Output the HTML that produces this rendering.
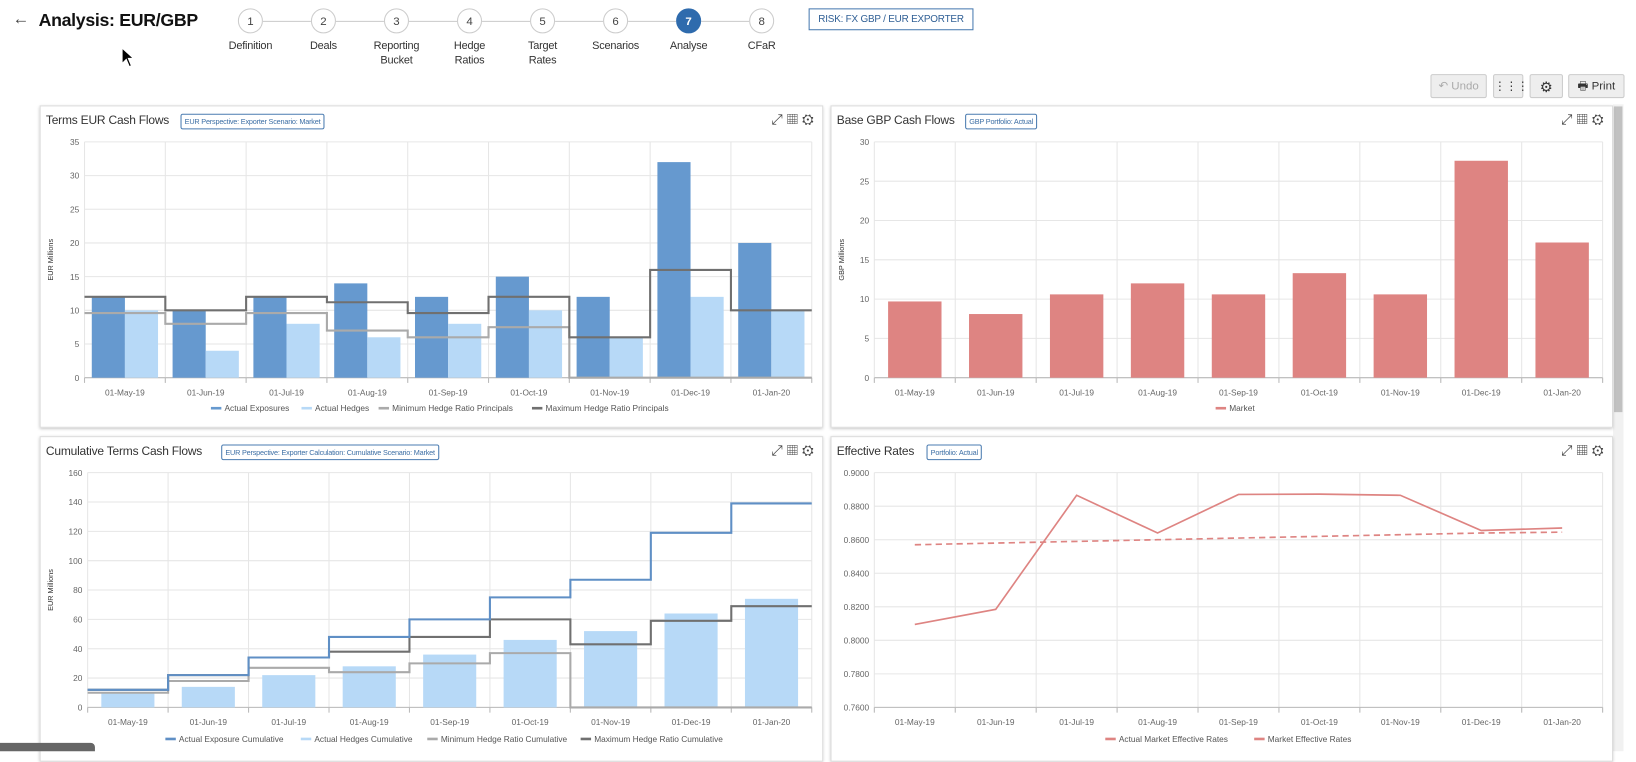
<!DOCTYPE html>
<html><head><meta charset="utf-8">
<style>
html,body{margin:0;padding:0;background:#fff;overflow:hidden;width:1636px;height:751px}
#root{position:absolute;left:0;top:0;width:1568px;height:720px;transform:scale(1.04337);transform-origin:0 0;font-family:"Liberation Sans",sans-serif;color:#333}
.abs{position:absolute}
.step{position:absolute;top:8px;width:24px;height:24px;border-radius:50%;border:1px solid #ccc;background:#fff;font-size:11px;text-align:center;line-height:24px;box-sizing:border-box;color:#444}
.step.on{background:#2f6bad;color:#fff;border-color:#2f6bad;font-weight:bold}
.slab{position:absolute;top:37px;font-size:10.5px;text-align:center;width:70px;line-height:14px;color:#333;letter-spacing:-0.2px}
.conn{position:absolute;top:20px;height:1px;background:#ccc}
.panel{position:absolute;background:#fff;border:1px solid #ddd;box-shadow:0 1px 3px rgba(0,0,0,.25)}
.ptitle{position:absolute;left:5px;top:8px;font-size:11.5px;color:#333;letter-spacing:-0.2px}
.badge{position:absolute;top:7px;height:15px;border:1px solid #4a7bb0;border-radius:2px;font-size:7px;color:#3d6fa5;line-height:15px;padding:0 3px;white-space:nowrap;letter-spacing:-0.2px;box-sizing:border-box}
.icons{position:absolute;right:8px;top:4px;font-size:14px;color:#444}
.tbtn{position:absolute;top:71px;height:23px;border:1px solid #ccc;border-radius:2px;background:#eee;font-size:11px;line-height:23px;text-align:center;box-sizing:border-box}
svg text{font-family:"Liberation Sans",sans-serif}
</style></head><body>
<div id="root">
<div class="abs" style="left:12px;top:10px;font-size:16px;color:#444">←</div>
<div class="abs" style="left:37px;top:10px;font-size:17px;font-weight:bold;color:#111;letter-spacing:-0.3px">Analysis: EUR/GBP</div>
<div id="steps"></div>
<div class="abs" style="left:775px;top:8px;width:158px;height:21px;border:1px solid #4a7bb0;font-size:9.5px;color:#2f5f95;line-height:20px;text-align:center;box-sizing:border-box;letter-spacing:-0.2px">RISK: FX GBP / EUR EXPORTER</div>
<div class="tbtn" style="left:1371px;width:54px;color:#aaa">↶ Undo</div>
<div class="tbtn" style="left:1431px;width:29px">⋮⋮⋮</div>
<div class="tbtn" style="left:1466px;width:32px;font-size:14px">⚙</div>
<div class="tbtn" style="left:1503px;width:54px">🖶 Print</div>
<div class="abs" style="left:1546px;top:100px;width:10px;height:620px;background:#f1f1f1"><div style="position:absolute;left:1px;top:2px;width:8px;height:293px;background:#c1c1c1"></div></div>

<div class="panel" style="left:38px;top:101px;width:749px;height:307px">
 <div class="ptitle">Terms EUR Cash Flows</div>
 <div class="badge" style="left:134px">EUR Perspective: Exporter Scenario: Market</div>
 <div class="icons">⤢ ▦ ⚙</div>
 <svg id="c1" width="749" height="307" style="position:absolute;left:0;top:0"></svg>
</div>
<div class="panel" style="left:796px;top:101px;width:748px;height:307px">
 <div class="ptitle">Base GBP Cash Flows</div>
 <div class="badge" style="left:128px">GBP Portfolio: Actual</div>
 <div class="icons">⤢ ▦ ⚙</div>
 <svg id="c2" width="748" height="307" style="position:absolute;left:0;top:0"></svg>
</div>
<div class="panel" style="left:38px;top:418px;width:749px;height:310px">
 <div class="ptitle">Cumulative Terms Cash Flows</div>
 <div class="badge" style="left:173px">EUR Perspective: Exporter Calculation: Cumulative Scenario: Market</div>
 <div class="icons">⤢ ▦ ⚙</div>
 <svg id="c3" width="749" height="310" style="position:absolute;left:0;top:0"></svg>
</div>
<div class="panel" style="left:796px;top:418px;width:748px;height:310px">
 <div class="ptitle">Effective Rates</div>
 <div class="badge" style="left:91px">Portfolio: Actual</div>
 <div class="icons">⤢ ▦ ⚙</div>
 <svg id="c4" width="748" height="310" style="position:absolute;left:0;top:0"></svg>
</div>
<div class="abs" style="left:0;top:712px;width:91px;height:8px;background:#666;border-radius:0 4px 0 0"></div>
<svg class="abs" style="left:116px;top:45px" width="14" height="20"><path d="M1,1 L1,16 L5,12 L8,19 L10,18 L7,11 L12,11 Z" fill="#000" stroke="#fff" stroke-width="1"/></svg>
</div>
<script>
const categories=["01-May-19","01-Jun-19","01-Jul-19","01-Aug-19","01-Sep-19","01-Oct-19","01-Nov-19","01-Dec-19","01-Jan-20"];
const exposures=[12,10,12,14,12,15,12,32,20];
const hedges=[10,4,8,6,8,10,6,12,10];
const minRatio=[9.6,8,9.6,7,6,7.5,0,0,0];
const maxRatio=[12,10,12,11.2,9.6,12,6,16,10];
const market=[9.7,8.1,10.6,12,10.6,13.3,10.6,27.6,17.2];
const cumExposure=[12,22,34,48,60,75,87,119,139];
const cumHedges=[10,14,22,28,36,46,52,64,74];
const cumMin=[10,18,27,24,30,37,0,0,0];
const cumMax=[12,22,34,38,48,60,43,59,69];
const actualRates=[0.8095,0.8185,0.8865,0.8640,0.8870,0.8872,0.8865,0.8655,0.8670];
const marketRates=[0.8570,0.8580,0.8590,0.8600,0.8610,0.8620,0.8630,0.8640,0.8645];
const ticks1=[0,5,10,15,20,25,30,35];
const ticks2=[0,5,10,15,20,25,30];
const ticks3=[0,20,40,60,80,100,120,140,160];
const ticks4=[0.76,0.78,0.80,0.82,0.84,0.86,0.88,0.90];

const stepNames=["Definition","Deals","Reporting<br>Bucket","Hedge<br>Ratios","Target<br>Rates","Scenarios","Analyse","CFaR"];
const st=document.getElementById('steps');
stepNames.forEach((n,i)=>{
  const cx=240+70*i;
  if(i<7){const c=document.createElement('div');c.className='conn';c.style.left=(cx+12)+'px';c.style.width='46px';
  
  st.appendChild(c);}
  const d=document.createElement('div');d.className='step'+(i==6?' on':'');d.style.left=(cx-12)+'px';d.textContent=i+1;
  
  
  st.appendChild(d);
  const l=document.createElement('div');l.className='slab';l.style.left=(cx-35)+'px';l.innerHTML=n;
  
  
  st.appendChild(l);
});

const NS="http://www.w3.org/2000/svg";
function mk(svg,tag,attrs,name){const e=document.createElementNS(NS,tag);for(const k in attrs)e.setAttribute(k,attrs[k]);
  
  
  svg.appendChild(e);return e;}

function chart(id,cfg){
  const svg=document.getElementById(id);
  const {x0,x1,yb,yt,ticks,ylab,fmt}=cfg;
  const min=ticks[0],max=ticks[ticks.length-1];
  const n=categories.length,cw=(x1-x0)/n;
  const Y=v=>yb-(v-min)/(max-min)*(yb-yt);
  const X=i=>x0+cw*i;
  ticks.forEach(t=>{
    mk(svg,'line',{x1:x0,x2:x1,y1:Y(t),y2:Y(t),stroke:'#e6e6e6'},'grid-line');
    const tx=mk(svg,'text',{x:x0-5,y:Y(t)+3,'font-size':8,fill:'#666','text-anchor':'end'},'y-tick-label');tx.textContent=fmt?fmt(t):t;
  });
  for(let i=0;i<=n;i++){mk(svg,'line',{x1:X(i),x2:X(i),y1:yt,y2:yb+5,stroke:'#e6e6e6'},'grid-line');}
  mk(svg,'line',{x1:x0,x2:x1,y1:yb,y2:yb,stroke:'#bbb'},'x-axis');
  for(let i=0;i<=n;i++)mk(svg,'line',{x1:X(i),x2:X(i),y1:yb,y2:yb+5,stroke:'#bbb'},'x-tick');
  categories.forEach((c,i)=>{const t=mk(svg,'text',{x:X(i)+cw/2,y:yb+17,'font-size':8,fill:'#666','text-anchor':'middle'},'x-tick-label');t.textContent=c;});
  if(ylab){const t=mk(svg,'text',{x:0,y:0,'font-size':7,fill:'#333','text-anchor':'middle',transform:`translate(${cfg.ylx},${(yb+yt)/2}) rotate(-90)`},'y-axis-title');t.textContent=ylab;}
  (cfg.bars||[]).forEach(b=>{
    b.data.forEach((v,i)=>{const bx=X(i)+cw*b.off;
      mk(svg,'rect',{x:bx,y:Y(v),width:cw*b.w,height:Y(min)-Y(v),fill:b.color},'bar-'+categories[i]);});
  });
  (cfg.steps||[]).forEach(s=>{
    let d='';s.data.forEach((v,i)=>{d+=(i?'L':'M')+X(i)+','+Y(v)+'L'+X(i+1)+','+Y(v);});
    mk(svg,'path',{d,fill:'none',stroke:s.color,'stroke-width':2},'step-line');
  });
  (cfg.lines||[]).forEach(s=>{
    const d=s.data.map((v,i)=>(i?'L':'M')+(X(i)+cw/2)+','+Y(v)).join('');
    mk(svg,'path',{d,fill:'none',stroke:s.color,'stroke-width':1.6,'stroke-dasharray':s.dash||''},'series-line');
  });
  const items=cfg.legend;const cx=(x0+x1)/2;
  const widths=items.map(it=>it.label.length*4.3+18);const tot=widths.reduce((a,b)=>a+b,0);
  let lx=cx-tot/2;
  items.forEach((it,i)=>{
    mk(svg,'rect',{x:lx,y:cfg.ly-4,width:10,height:2.5,fill:it.color},'legend-swatch');
    const t=mk(svg,'text',{x:lx+13,y:cfg.ly,'font-size':8,fill:'#555'},'legend-entry');t.textContent=it.label;
    lx+=widths[i];
  });
}
const DB='#6699cf',LB='#b7d9f7',MIN='#aaaaaa',MAX='#707070',RED='#de8482';
chart('c1',{x0:42,x1:739,yb:260,yt:34,ticks:ticks1,ylab:'EUR Millions',ylx:12,ly:292,
  bars:[{data:exposures,color:DB,off:0.09,w:0.41},{data:hedges,color:LB,off:0.5,w:0.41}],
  steps:[{data:minRatio,color:MIN},{data:maxRatio,color:MAX}],
  legend:[{label:'Actual Exposures',color:DB},{label:'Actual Hedges',color:LB},{label:'Minimum Hedge Ratio Principals',color:MIN},{label:'Maximum Hedge Ratio Principals',color:MAX}]});
chart('c2',{x0:41,x1:739,yb:260,yt:34,ticks:ticks2,ylab:'GBP Millions',ylx:12,ly:292,
  bars:[{data:market,color:RED,off:0.17,w:0.66}],
  legend:[{label:'Market',color:RED}]});
chart('c3',{x0:45,x1:739,yb:259,yt:34,ticks:ticks3,ylab:'EUR Millions',ylx:12,ly:292,
  bars:[{data:cumHedges,color:LB,off:0.17,w:0.66}],
  steps:[{data:cumMin,color:MIN},{data:cumMax,color:MAX},{data:cumExposure,color:'#5f8fc5'}],
  legend:[{label:'Actual Exposure Cumulative',color:'#5f8fc5'},{label:'Actual Hedges Cumulative',color:LB},{label:'Minimum Hedge Ratio Cumulative',color:MIN},{label:'Maximum Hedge Ratio Cumulative',color:MAX}]});
chart('c4',{x0:41,x1:739,yb:259,yt:34,ticks:ticks4,fmt:t=>t.toFixed(4),ly:292,
  lines:[{data:actualRates,color:RED},{data:marketRates,color:RED,dash:'6,4'}],
  legend:[{label:'Actual Market Effective Rates',color:RED},{label:'Market Effective Rates',color:RED}]});
</script>
</body></html>
